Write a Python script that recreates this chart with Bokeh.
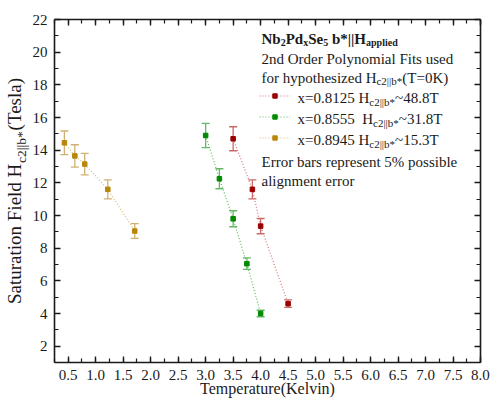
import math
from bokeh.plotting import figure
from bokeh.models import (ColumnDataSource, Whisker, TeeHead, Label, LinearAxis,
                          SingleIntervalTicker, FixedTicker, NumeralTickFormatter,
                          Range1d, Legend, LegendItem)
from bokeh.embed import file_html
from bokeh.resources import INLINE

# ---------------- data ----------------
temp_8125 = [3.5, 3.85, 4.0, 4.5]
field_8125 = [14.7, 11.6, 9.35, 4.6]
temp_8555 = [3.0, 3.25, 3.5, 3.75, 4.0]
field_8555 = [14.9, 12.25, 9.8, 7.05, 4.0]
temp_8945 = [0.43, 0.62, 0.8, 1.22, 1.71]
field_8945 = [14.45, 13.65, 13.15, 11.6, 9.05]
error_fraction = 0.05

FONT = "Liberation Serif"
TXT = "#1a1a1a"
NB = "\u00a0"

# frame placement (page coords)
FL, FT, FW, FH = 54, 19, 426, 343
FB = FT + FH

p = figure(frame_width=FW, frame_height=FH,
           x_range=Range1d(0.25, 8.0001), y_range=Range1d(1, 22.0001),
           output_backend="svg", toolbar_location=None,
           min_border_left=FL, min_border_top=FT,
           min_border_right=11, min_border_bottom=41,
           background_fill_color="white", border_fill_color="white")
p.outline_line_color = None
p.grid.visible = False

xt = SingleIntervalTicker(interval=0.5, num_minor_ticks=2)
yt = SingleIntervalTicker(interval=2, num_minor_ticks=2)


def style(ax, labels=True):
    ax.axis_line_color = TXT
    ax.axis_line_width = 1.6
    ax.major_tick_in = 6
    ax.major_tick_out = 0
    ax.minor_tick_in = 4
    ax.minor_tick_out = 0
    ax.major_tick_line_color = TXT
    ax.minor_tick_line_color = TXT
    ax.major_tick_line_width = 1.4
    ax.minor_tick_line_width = 1.2
    ax.major_label_text_font = FONT
    ax.major_label_text_color = TXT
    ax.axis_label_text_font = FONT
    ax.axis_label_text_font_style = "normal"
    ax.axis_label_text_color = TXT
    if labels:
        ax.major_label_text_font_size = "15px"
    else:
        ax.major_label_text_font_size = "1px"
        ax.major_label_text_color = None
        ax.major_label_standoff = 0


p.xaxis.ticker = xt
p.yaxis.ticker = yt
p.xaxis.formatter = NumeralTickFormatter(format="0.0")
for ax in p.xaxis + p.yaxis:
    style(ax)
p.xaxis.major_label_standoff = 7
p.yaxis.major_label_standoff = 7

# x title
p.xaxis.axis_label = "Temperature(Kelvin)"
p.xaxis.axis_label_text_font_size = "16px"
p.xaxis.axis_label_standoff = -3

# y title: subscript part on the primary axis, main part on an outer axis
sub_text = "c2||b*"
p.yaxis.axis_label = NB * 26 + sub_text
p.yaxis.axis_label_text_font_size = "13.5px"
p.yaxis.axis_label_standoff = 1

outer = LinearAxis(ticker=FixedTicker(ticks=[]))
style(outer, labels=False)
outer.axis_line_color = None
outer.major_tick_in = 0
outer.minor_tick_in = 0
outer.axis_label = "Saturation Field H" + NB * 7 + "(Tesla)"
outer.axis_label_text_font_size = "19px"
outer.axis_label_standoff = -14
p.add_layout(outer, "left")

top = LinearAxis(ticker=xt)
right = LinearAxis(ticker=yt)
style(top, labels=False)
style(right, labels=False)
p.add_layout(top, "above")
p.add_layout(right, "right")

# ---------------- series ----------------
series = [
    (temp_8125, field_8125, "#990000", "#d87070", "#c86a6a"),
    (temp_8555, field_8555, "#008a00", "#5cbc5c", "#66b866"),
    (temp_8945, field_8945, "#b8860b", "#dcbc70", "#d0b070"),
]
legend_items = []
for t, h, mc, lc, ec in series:
    src = ColumnDataSource(dict(
        t=t, h=h,
        lo=[v * (1 - error_fraction) for v in h],
        hi=[v * (1 + error_fraction) for v in h]))
    w = Whisker(source=src, base="t", lower="lo", upper="hi",
                line_color=ec, line_width=1.3, level="underlay",
                upper_head=TeeHead(size=8, line_color=ec, line_width=1.3),
                lower_head=TeeHead(size=8, line_color=ec, line_width=1.3))
    p.add_layout(w)
    ln = p.line("t", "h", source=src, line_color=lc, line_width=1.2,
                line_dash="1 2")
    sc = p.scatter("t", "h", source=src, marker="square", size=4.5,
                   fill_color=mc, line_color=mc)
    legend_items.append(LegendItem(label=" ", renderers=[ln, sc]))

legend = Legend(items=legend_items, location=(259 - FL, FB - 147.5),
                glyph_width=31, glyph_height=11, label_width=0,
                label_height=21, spacing=0, padding=0, margin=0,
                label_standoff=0, border_line_color=None,
                background_fill_alpha=0, label_text_font_size="1px")
p.add_layout(legend)

# ---------------- text with subscripts ----------------
REG = {" ": 250, "%": 833, "(": 333, ")": 333, "*": 500, ".": 250, "=": 564,
       "~": 541, "|": 200, "E": 611, "F": 556, "H": 722, "K": 722, "O": 722,
       "P": 556, "S": 556, "T": 611, "a": 444, "b": 500, "c": 444, "d": 500,
       "e": 444, "f": 333, "g": 500, "h": 500, "i": 278, "l": 278, "m": 778,
       "n": 500, "o": 500, "p": 500, "r": 333, "s": 389, "t": 278, "u": 500,
       "v": 500, "x": 500, "y": 500, "z": 444}
BOLD = {" ": 250, "*": 500, "|": 220, "N": 722, "P": 611, "S": 556, "H": 778,
        "a": 500, "b": 556, "d": 556, "e": 444, "i": 278, "l": 278, "p": 556,
        "x": 500}


def width(s, size, bold):
    tab = BOLD if bold else REG
    return sum(tab.get(ch, 500) for ch in s) * size / 1000.0


def run(pieces, x0, y0):
    pos = 0.0
    for text, size, bold, dy in pieces:
        lead = len(text) - len(text.lstrip(" "))
        pos += lead * width(" ", size, bold)
        t = text.strip(" ")
        p.add_layout(Label(x=x0 + pos - FL, y=FB - (y0 + dy),
                           x_units="screen", y_units="screen",
                           text=t, text_font=FONT,
                           text_font_size=f"{size}px",
                           text_font_style="bold" if bold else "normal",
                           text_color=TXT, text_align="left",
                           text_baseline="alphabetic"))
        pos += width(t, size, bold)
        trail = len(text) - len(text.rstrip(" "))
        pos += trail * width(" ", size, bold)


LX = 261
RX = 297
SH = -5
run([("Nb", 15, True, 0), ("2", 10, True, 3.5), ("Pd", 15, True, 0),
     ("x", 10, True, 3.5), ("Se", 15, True, 0), ("5", 10, True, 3.5),
     (" b*||H", 15, True, 0), ("applied", 10, True, 3.5)], LX, 43 + SH)
run([("2nd Order Polynomial Fits used", 15, False, 0)], LX, 63.5 + SH)
run([("for hypothesized H", 15, False, 0), ("c2||b*", 11, False, 3.5),
     ("(T=0K)", 15, False, 0)], LX, 82 + SH)
run([("x=0.8125 H", 15, False, 0), ("c2||b*", 11, False, 3.5),
     ("~48.8T", 15, False, 0)], RX, 102.5 + SH)
run([("x=0.8555", 15, False, 0), ("  H", 15, False, 0),
     ("c2||b*", 11, False, 3.5), ("~31.8T", 15, False, 0)], RX, 123.5 + SH)
run([("x=0.8945 H", 15, False, 0), ("c2||b*", 11, False, 3.5),
     ("~15.3T", 15, False, 0)], RX, 144.5 + SH)
run([("Error bars represent 5% possible", 15, False, 0)], LX, 166.5 + SH)
run([("alignment error", 15, False, 0)], LX, 185.5 + SH)

open("out.html", "w").write(file_html(p, INLINE))
